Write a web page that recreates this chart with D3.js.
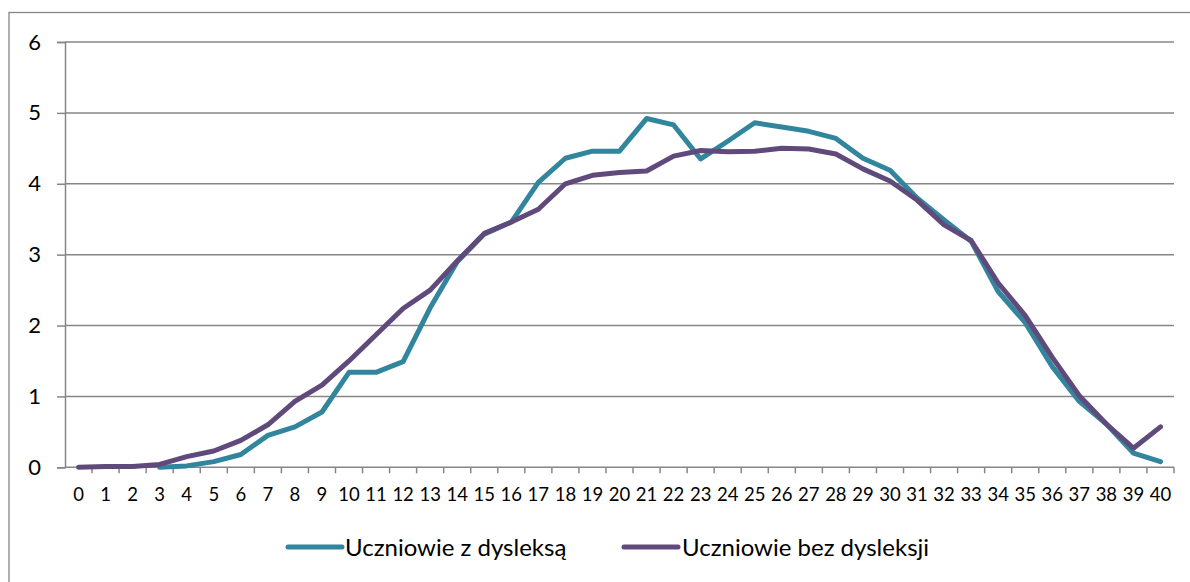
<!DOCTYPE html>
<html>
<head>
<meta charset="utf-8">
<script src="https://cdn.jsdelivr.net/npm/d3@7"></script>
<style>
  body { margin: 0; background: #fff; }
  text { font-family: Lato, "Open Sans", sans-serif; fill: #000; }
</style>
</head>
<body>
<div id="chart"></div>
<script>
// Chart data
const categories = d3.range(0, 41);
const yTicks = [0, 1, 2, 3, 4, 5, 6];
const seriesNames = ["Uczniowie z dysleksą", "Uczniowie bez dysleksji"];
const seriesColors = ["#31859c", "#604a7b"];

// teal series has no values for 0-2
const withDyslexia = [null, null, null, 0.0, 0.02, 0.08, 0.18, 0.45, 0.57, 0.78,
  1.34, 1.34, 1.49, 2.25, 2.9, 3.29, 3.46, 4.02, 4.36, 4.46,
  4.46, 4.92, 4.83, 4.35, 4.6, 4.86, 4.8, 4.74, 4.64, 4.36,
  4.19, 3.8, 3.49, 3.19, 2.48, 2.04, 1.42, 0.93, 0.61, 0.2, 0.08];
const withoutDyslexia = [0.0, 0.01, 0.01, 0.04, 0.15, 0.23, 0.38, 0.6, 0.93, 1.16,
  1.5, 1.87, 2.24, 2.5, 2.91, 3.3, 3.46, 3.64, 4.0, 4.12,
  4.16, 4.18, 4.39, 4.47, 4.45, 4.46, 4.5, 4.49, 4.42, 4.21,
  4.04, 3.77, 3.42, 3.2, 2.6, 2.14, 1.55, 1.01, 0.61, 0.27, 0.57];

const series = [withDyslexia, withoutDyslexia];

const width = 1190, height = 582;
const plot = { left: 65, right: 1174, top: 42, bottom: 467.3 };
const gridColor = "#868686";

const svg = d3.select("#chart").append("svg")
  .attr("width", width)
  .attr("height", height);

// outer chart border (runs off the picture at right and bottom)
svg.append("rect")
  .attr("x", 9).attr("y", 12.5)
  .attr("width", 1200).attr("height", 600)
  .attr("fill", "none")
  .attr("stroke", gridColor)
  .attr("stroke-width", 1.3);

const x = d3.scaleBand()
  .domain(categories)
  .range([plot.left, plot.right])
  .paddingInner(0).paddingOuter(0);

const y = d3.scaleLinear()
  .domain([0, 6])
  .range([plot.bottom, plot.top]);

// horizontal gridlines + y ticks
const yAxis = svg.append("g")
  .attr("transform", `translate(${plot.left},0)`)
  .call(d3.axisLeft(y).tickValues(yTicks).tickSize(8).tickPadding(16).tickFormat(d3.format("d")));
yAxis.attr("font-size", null).attr("font-family", null);
yAxis.select(".domain").attr("stroke", gridColor).attr("stroke-width", 1.5);
yAxis.selectAll(".tick line").attr("stroke", gridColor).attr("stroke-width", 1.5);
yAxis.selectAll(".tick text")
  .style("font-size", "22px")
  .attr("fill", "#000");

svg.append("g")
  .selectAll("line")
  .data(yTicks.filter(d => d > 0))
  .join("line")
  .attr("x1", plot.left).attr("x2", plot.right)
  .attr("y1", d => y(d)).attr("y2", d => y(d))
  .attr("stroke", gridColor)
  .attr("stroke-width", 1.5);

// x axis: ticks sit between categories
const xAxisG = svg.append("g")
  .attr("transform", `translate(0,${plot.bottom})`);
xAxisG.append("line")
  .attr("x1", plot.left).attr("x2", plot.right)
  .attr("stroke", gridColor).attr("stroke-width", 1.5);
const bounds = categories.map(c => x(c)).concat([plot.right]);
xAxisG.selectAll("line.tk")
  .data(bounds.slice(1))
  .join("line")
  .attr("class", "tk")
  .attr("x1", d => d).attr("x2", d => d)
  .attr("y1", 0).attr("y2", 6)
  .attr("stroke", gridColor).attr("stroke-width", 1.5);
xAxisG.selectAll("text")
  .data(categories)
  .join("text")
  .attr("x", d => x(d) + x.bandwidth() / 2)
  .attr("y", 34)
  .attr("text-anchor", "middle")
  .style("font-size", "18.5px")
  .text(d => d);

// lines
const line = d3.line()
  .defined(d => d != null)
  .x((d, i) => x(categories[i]) + x.bandwidth() / 2)
  .y(d => y(d));

series.forEach((s, i) => {
  svg.append("path")
    .datum(s)
    .attr("fill", "none")
    .attr("stroke", seriesColors[i])
    .attr("stroke-width", 5)
    .attr("stroke-linejoin", "round")
    .attr("stroke-linecap", "round")
    .attr("d", line);
});

// legend
const legendItems = [
  { x1: 288, x2: 342, tx: 345 },
  { x1: 624, x2: 678, tx: 682 }
];
const legend = svg.append("g").attr("transform", "translate(0,547)");
seriesNames.forEach((name, i) => {
  legend.append("line")
    .attr("x1", legendItems[i].x1).attr("x2", legendItems[i].x2)
    .attr("y1", 0).attr("y2", 0)
    .attr("stroke", seriesColors[i])
    .attr("stroke-width", 5)
    .attr("stroke-linecap", "round");
  legend.append("text")
    .attr("x", legendItems[i].tx)
    .attr("y", 8.5)
    .style("font-size", "24px")
    .text(name);
});
</script>
</body>
</html>
